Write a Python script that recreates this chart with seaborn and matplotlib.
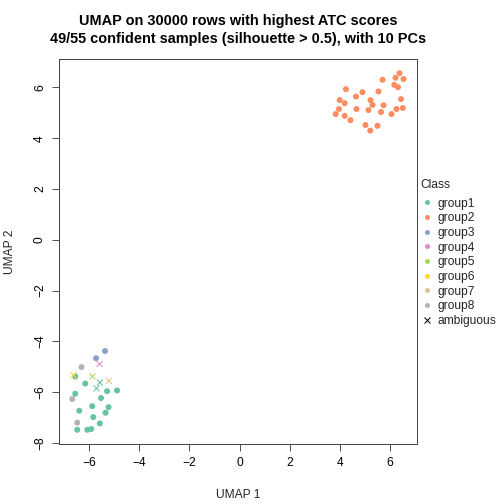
import matplotlib
matplotlib.use("Agg")
import matplotlib.pyplot as plt
from matplotlib.lines import Line2D
import seaborn as sns
import numpy as np
import pandas as pd

# UMAP coordinates
g1_x = [-6.56, -6.16, -5.29, -4.89, -6.56, -5.53, -5.88, -5.23, -6.40, -5.35, -5.84, -5.58, -6.48, -6.08, -5.92]
g1_y = [-5.38, -5.66, -5.96, -5.93, -6.06, -6.23, -6.55, -6.59, -6.73, -6.81, -6.98, -7.23, -7.48, -7.48, -7.45]
g2_x = [6.39, 6.23, 6.55, 5.71, 6.18, 6.33, 4.25, 4.91, 5.55, 4.65, 5.23, 4.00, 6.45, 4.20, 5.31,
        5.75, 3.97, 4.67, 5.15, 6.27, 6.52, 5.65, 3.84, 6.07, 4.20, 4.43, 5.03, 5.51, 5.22]
g2_y = [6.56, 6.38, 6.33, 6.30, 6.10, 6.01, 5.93, 5.81, 5.84, 5.64, 5.50, 5.50, 5.54, 5.38, 5.31,
        5.30, 5.15, 5.15, 5.11, 5.15, 5.19, 5.03, 4.95, 4.95, 4.88, 4.71, 4.52, 4.49, 4.30]
g3_x = [-5.37, -5.73]
g3_y = [-4.38, -4.66]
g8_x = [-6.31, -6.68, -6.48]
g8_y = [-5.01, -6.27, -7.20]

# ambiguous samples (drawn as x in their class colour)
amb_x = [-5.59, -6.63, -5.87, -5.58, -5.22, -5.71]
amb_y = [-4.89, -5.33, -5.38, -5.62, -5.55, -5.85]
amb_class = ["group4", "group6", "group5", "group1", "group7", "group1"]

classes = ["group1", "group2", "group3", "group4", "group5", "group6", "group7", "group8"]
colors = ["#66C2A5", "#FC8D62", "#8DA0CB", "#E78AC3", "#A6D854", "#FFD92F", "#E5C494", "#B3B3B3"]
palette = dict(zip(classes, colors))

conf = pd.DataFrame({
    "x": g1_x + g2_x + g3_x + g8_x,
    "y": g1_y + g2_y + g3_y + g8_y,
    "cls": ["group1"] * len(g1_x) + ["group2"] * len(g2_x) + ["group3"] * len(g3_x) + ["group8"] * len(g8_x),
})
amb = pd.DataFrame({"x": amb_x, "y": amb_y, "cls": amb_class})

sns.set_style("white")
plt.rcParams["font.family"] = ["Liberation Sans", "DejaVu Sans"]

fig = plt.figure(figsize=(7, 7), dpi=72)
ax = fig.add_axes([0.117, 0.119, 0.710, 0.764])

sns.scatterplot(data=conf, x="x", y="y", hue="cls", palette=palette, s=36,
                linewidth=0, marker="o", legend=False, ax=ax)
sns.scatterplot(data=amb, x="x", y="y", hue="cls", palette=palette, s=36,
                marker="x", linewidth=1, legend=False, ax=ax)

ax.set_xlim(-7.21, 7.08)
ax.set_ylim(-8.04, 7.12)
ax.set_xticks([-6, -4, -2, 0, 2, 4, 6])
ax.set_yticks([-8, -6, -4, -2, 0, 2, 4, 6])
ax.tick_params(axis="both", direction="out", length=7, width=1, colors="#555555",
               labelcolor="black", labelsize=12, bottom=True, left=True, pad=6)
for lab in ax.get_yticklabels():
    lab.set_rotation(90)
    lab.set_va("center")
for sp in ax.spines.values():
    sp.set_color("#444444")
    sp.set_linewidth(1)

ax.set_xlabel("UMAP 1", fontsize=12, labelpad=20)
ax.set_ylabel("UMAP 2", fontsize=12, labelpad=18)
ax.set_title("UMAP on 30000 rows with highest ATC scores\n49/55 confident samples (silhouette > 0.5), with 10 PCs",
             fontsize=14.5, fontweight="bold", pad=16, linespacing=1.4, color="black")

handles = [Line2D([], [], marker="o", linestyle="", color=c, markersize=5, markeredgewidth=0) for c in colors]
handles.append(Line2D([], [], marker="x", linestyle="", color="black", markersize=6, markeredgewidth=1))
leg = fig.legend(handles, classes + ["ambiguous"], title="Class", loc="upper left",
                 bbox_to_anchor=(0.825, 0.655), frameon=False, fontsize=12, title_fontsize=12,
                 handletextpad=0.3, labelspacing=0.22, borderaxespad=0, handlelength=1.1)
leg._legend_box.align = "left"
leg._legend_box.sep = 7

fig.savefig("out.png", dpi=72)
